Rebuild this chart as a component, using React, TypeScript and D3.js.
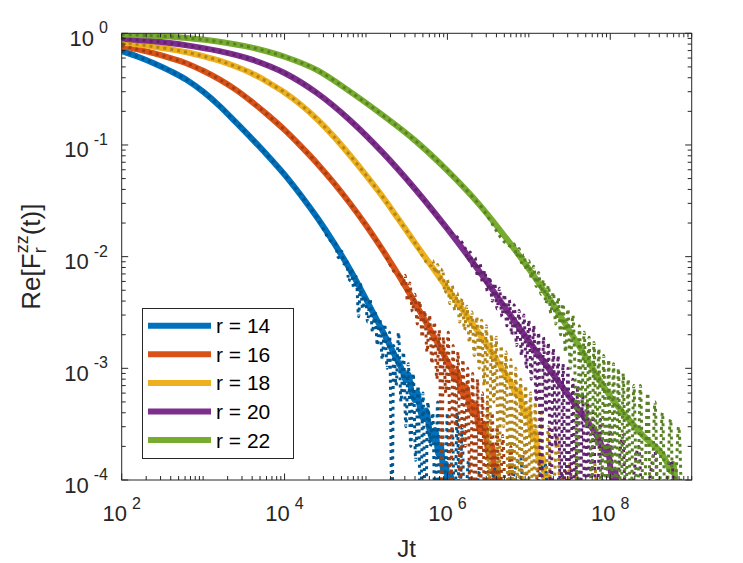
import React from "react";
import * as d3 from "d3";

// Each point is [log10(Jt), Re F_r^zz(t)]
type Pt = [number, number];

const legendLabels = ["r = 14", "r = 16", "r = 18", "r = 20", "r = 22"];
const lineColors = ["#0072BD", "#D95319", "#EDB120", "#7E2F8E", "#77AC30"];
const dotColors = ["#00568E", "#A33E13", "#B28518", "#5F236B", "#598124"];

const xTickExps = [2, 4, 6, 8];
const yTickExps = [0, -1, -2, -3, -4];

// r = 14
const smooth14: Pt[] = [
  [2.0, 0.695], [2.2, 0.617], [2.4, 0.537], [2.6, 0.459], [2.8, 0.382], [3.0, 0.3],
  [3.2, 0.224], [3.4, 0.16], [3.6, 0.1135], [3.8, 0.0794], [4.0, 0.0543], [4.2, 0.0355],
  [4.4, 0.0224], [4.6, 0.0135], [4.8, 0.00776], [5.0, 0.00417], [5.2, 0.00219], [5.4, 0.00112],
];
const end14: Pt[] = [
  [5.45, 0.00095], [5.49, 0.00078], [5.52, 0.00088], [5.56, 0.00062], [5.6, 0.00052],
  [5.63, 0.00061], [5.67, 0.00041], [5.71, 0.00035], [5.74, 0.00042], [5.78, 0.00028],
  [5.82, 0.00023], [5.85, 0.00028], [5.89, 0.00017], [5.92, 0.0002], [5.95, 0.00012],
  [5.98, 0.00014], [6.01, 0.00008], [6.04, 0.00011], [6.07, 0.00005],
];
const noisy14: Pt[] = [
  [4.62, 0.0135], [4.66, 0.0098], [4.7, 0.0112], [4.73, 0.0086], [4.76, 0.0094],
  [4.79, 0.006], [4.82, 0.0078], [4.85, 0.0052], [4.88, 0.0066], [4.91, 0.0029],
  [4.93, 0.0058], [4.96, 0.0034], [4.99, 0.0045], [5.02, 0.0026], [5.05, 0.0042],
  [5.08, 0.0021], [5.11, 0.0033], [5.14, 0.0016], [5.17, 0.0028], [5.2, 0.0012],
  [5.23, 0.0025], [5.26, 0.001], [5.29, 0.0021], [5.32, 0.00004], [5.34, 0.0016],
  [5.37, 0.0007], [5.4, 0.0021], [5.43, 0.0005], [5.46, 0.0014], [5.49, 0.0003],
  [5.52, 0.0011], [5.55, 0.0002], [5.58, 0.0009], [5.61, 0.00015], [5.64, 0.0007],
  [5.67, 0.00004], [5.7, 0.0006], [5.73, 0.00004], [5.76, 0.0005], [5.79, 0.0002],
  [5.82, 0.0004], [5.85, 0.00004], [5.88, 0.0005], [5.91, 0.00004], [5.94, 0.0003],
  [5.97, 0.00004], [6.0, 0.0004], [6.03, 0.00004], [6.06, 0.0003], [6.09, 0.00004],
  [6.12, 0.0004], [6.15, 0.00004], [6.18, 0.0003], [6.21, 0.00004], [6.26, 0.00015],
  [6.3, 0.00004], [6.4, 0.00012], [6.45, 0.00004], [6.6, 0.00013], [6.65, 0.00004],
  [6.9, 0.00016], [6.95, 0.00004], [7.2, 0.00014], [7.25, 0.00004], [7.4, 0.00012],
  [7.45, 0.00004],
];

// r = 16
const smooth16: Pt[] = [
  [2.0, 0.774], [2.2, 0.718], [2.4, 0.661], [2.6, 0.6], [2.8, 0.537], [3.0, 0.462],
  [3.2, 0.387], [3.4, 0.313], [3.6, 0.243], [3.8, 0.184], [4.0, 0.1365], [4.2, 0.0977],
  [4.4, 0.0684], [4.6, 0.0462], [4.8, 0.0302], [5.0, 0.0191], [5.2, 0.0116], [5.4, 0.00684],
  [5.6, 0.00389], [5.8, 0.00214], [6.0, 0.00115],
];
const end16: Pt[] = [
  [6.05, 0.00098], [6.09, 0.00082], [6.12, 0.00094], [6.16, 0.00066], [6.2, 0.00058],
  [6.23, 0.00068], [6.27, 0.00046], [6.31, 0.0004], [6.34, 0.00047], [6.38, 0.00031],
  [6.42, 0.00027], [6.45, 0.00032], [6.49, 0.0002], [6.52, 0.00016], [6.55, 0.0002],
  [6.58, 0.00011], [6.61, 0.00013], [6.64, 0.00007], [6.67, 0.00009], [6.7, 0.00004],
];
const noisy16: Pt[] = [
  [5.42, 0.0072], [5.45, 0.0055], [5.48, 0.0068], [5.51, 0.004], [5.54, 0.0058],
  [5.57, 0.0032], [5.6, 0.0046], [5.63, 0.0025], [5.66, 0.004], [5.69, 0.0019],
  [5.72, 0.0033], [5.75, 0.0014], [5.78, 0.003], [5.81, 0.0011], [5.84, 0.0026],
  [5.87, 0.0008], [5.9, 0.0022], [5.93, 0.00004], [5.95, 0.0019], [5.98, 0.0006],
  [6.01, 0.0021], [6.04, 0.00004], [6.07, 0.0016], [6.1, 0.0003], [6.13, 0.0014],
  [6.16, 0.00004], [6.19, 0.0012], [6.22, 0.0002], [6.25, 0.001], [6.28, 0.00004],
  [6.31, 0.0009], [6.34, 0.00004], [6.37, 0.0008], [6.4, 0.00004], [6.43, 0.0006],
  [6.46, 0.00004], [6.49, 0.0005], [6.52, 0.00004], [6.55, 0.0004], [6.58, 0.00004],
  [6.61, 0.0003], [6.64, 0.00004], [6.68, 0.00025], [6.72, 0.00004], [6.78, 0.0002],
  [6.82, 0.00004], [6.95, 0.00018], [7.0, 0.00004], [7.15, 0.00015], [7.2, 0.00004],
  [7.5, 0.00013], [7.55, 0.00004],
];

// r = 18
const smooth18: Pt[] = [
  [2.0, 0.828], [2.2, 0.794], [2.4, 0.759], [2.6, 0.719], [2.8, 0.676], [3.0, 0.624],
  [3.2, 0.569], [3.4, 0.504], [3.6, 0.437], [3.8, 0.363], [4.0, 0.295], [4.2, 0.229],
  [4.4, 0.17], [4.6, 0.12], [4.8, 0.0813], [5.0, 0.0537], [5.2, 0.0347], [5.4, 0.0216],
  [5.6, 0.01334], [5.8, 0.00832], [6.0, 0.00519], [6.2, 0.00324], [6.4, 0.002],
  [6.6, 0.0012], [6.8, 0.00069],
];
const end18: Pt[] = [
  [6.84, 0.0006], [6.88, 0.00064], [6.92, 0.00045], [6.96, 0.00038], [6.99, 0.00043],
  [7.02, 0.00029], [7.05, 0.00024], [7.08, 0.00027], [7.11, 0.00017], [7.14, 0.00014],
  [7.17, 0.00016], [7.2, 0.0001], [7.23, 0.00011], [7.26, 0.00006], [7.29, 0.00007],
  [7.32, 0.00004],
];
const noisy18: Pt[] = [
  [5.82, 0.0092], [5.85, 0.0071], [5.88, 0.0085], [5.91, 0.006], [5.94, 0.0078],
  [5.97, 0.0047], [6.0, 0.0062], [6.03, 0.0038], [6.06, 0.0055], [6.09, 0.0033],
  [6.12, 0.0047], [6.15, 0.0026], [6.18, 0.0042], [6.21, 0.0022], [6.24, 0.0036],
  [6.27, 0.0017], [6.3, 0.0032], [6.33, 0.0013], [6.36, 0.0029], [6.39, 0.001],
  [6.42, 0.0027], [6.45, 0.0007], [6.48, 0.0024], [6.51, 0.00004], [6.54, 0.002],
  [6.57, 0.0005], [6.6, 0.0019], [6.63, 0.00004], [6.66, 0.0016], [6.69, 0.0003],
  [6.72, 0.0014], [6.75, 0.00004], [6.78, 0.0012], [6.81, 0.00004], [6.84, 0.001],
  [6.87, 0.00004], [6.9, 0.0008], [6.93, 0.00004], [6.96, 0.0007], [6.99, 0.00004],
  [7.02, 0.0006], [7.05, 0.00004], [7.08, 0.0005], [7.11, 0.00004], [7.15, 0.0004],
  [7.19, 0.00004], [7.24, 0.0003], [7.28, 0.00004], [7.35, 0.00025], [7.4, 0.00004],
  [7.55, 0.0002], [7.6, 0.00004], [7.8, 0.00015], [7.85, 0.00004],
];

// r = 20
const smooth20: Pt[] = [
  [2.0, 0.895], [2.4, 0.847], [2.8, 0.78], [3.2, 0.692], [3.6, 0.581], [4.0, 0.441],
  [4.4, 0.291], [4.8, 0.1675], [5.2, 0.0863], [5.6, 0.0406], [6.0, 0.0177], [6.4, 0.00724],
  [6.8, 0.0028], [7.2, 0.0011], [7.6, 0.000437], [7.9, 0.0002],
];
const end20: Pt[] = [
  [7.94, 0.00017], [7.97, 0.0002], [8.0, 0.00013], [8.03, 0.0001], [8.06, 0.00012],
  [8.09, 0.00007], [8.12, 0.00008], [8.15, 0.00005], [8.18, 0.00006], [8.21, 0.00003],
];
const noisy20: Pt[] = [
  [6.22, 0.0118], [6.25, 0.0092], [6.28, 0.011], [6.31, 0.008], [6.34, 0.0098],
  [6.37, 0.0066], [6.4, 0.0088], [6.43, 0.0058], [6.46, 0.0075], [6.49, 0.0049],
  [6.52, 0.0066], [6.55, 0.004], [6.58, 0.0058], [6.61, 0.0034], [6.64, 0.0052],
  [6.67, 0.0029], [6.7, 0.0046], [6.73, 0.0024], [6.76, 0.0041], [6.79, 0.002],
  [6.82, 0.0037], [6.85, 0.0016], [6.88, 0.0033], [6.91, 0.0013], [6.94, 0.003],
  [6.97, 0.001], [7.0, 0.0027], [7.03, 0.0008], [7.06, 0.0024], [7.09, 0.0005],
  [7.12, 0.0021], [7.15, 0.00004], [7.18, 0.0019], [7.21, 0.0004], [7.24, 0.0017],
  [7.27, 0.00004], [7.3, 0.0015], [7.33, 0.0002], [7.36, 0.0013], [7.39, 0.00004],
  [7.42, 0.0011], [7.45, 0.00004], [7.48, 0.001], [7.51, 0.00004], [7.54, 0.0008],
  [7.57, 0.00004], [7.6, 0.0007], [7.63, 0.00004], [7.66, 0.0006], [7.69, 0.00004],
  [7.72, 0.0005], [7.75, 0.00004], [7.79, 0.0004], [7.83, 0.00004], [7.88, 0.00035],
  [7.92, 0.00004], [8.0, 0.0003], [8.04, 0.00004], [8.15, 0.00025], [8.2, 0.00004],
  [8.35, 0.0002], [8.4, 0.00004], [8.55, 0.00018], [8.6, 0.00004], [8.75, 0.00015],
  [8.8, 0.00004],
];

// r = 22
const smooth22: Pt[] = [
  [2.0, 0.975], [2.4, 0.95], [2.8, 0.908], [3.2, 0.841], [3.6, 0.745], [4.0, 0.617],
  [4.4, 0.468], [4.8, 0.302], [5.2, 0.186], [5.6, 0.11], [6.0, 0.0589], [6.4, 0.0288],
  [6.8, 0.0123], [7.2, 0.00479], [7.6, 0.00166], [8.0, 0.00056], [8.4, 0.00025],
  [8.7, 0.000141],
];
const end22: Pt[] = [
  [8.74, 0.00012], [8.77, 0.00014], [8.81, 0.00009], [8.84, 0.00007], [8.87, 0.00009],
  [8.9, 0.00005], [8.93, 0.00006], [8.96, 0.00003],
];
const noisy22: Pt[] = [
  [6.82, 0.013], [6.85, 0.01], [6.88, 0.0118], [6.91, 0.0088], [6.94, 0.0104],
  [6.97, 0.0076], [7.0, 0.0092], [7.03, 0.0064], [7.06, 0.0082], [7.09, 0.0054],
  [7.12, 0.0072], [7.15, 0.0046], [7.18, 0.0062], [7.21, 0.0038], [7.24, 0.0055],
  [7.27, 0.0031], [7.3, 0.0048], [7.33, 0.0025], [7.36, 0.0043], [7.39, 0.002],
  [7.42, 0.0038], [7.45, 0.0014], [7.48, 0.0034], [7.51, 0.001], [7.54, 0.003],
  [7.57, 0.0007], [7.6, 0.00004], [7.62, 0.0024], [7.65, 0.0005], [7.68, 0.0021],
  [7.71, 0.0003], [7.74, 0.0019], [7.77, 0.00004], [7.8, 0.0017], [7.83, 0.0002],
  [7.86, 0.0015], [7.89, 0.00004], [7.92, 0.0013], [7.95, 0.00004], [7.98, 0.0012],
  [8.01, 0.00004], [8.04, 0.0011], [8.07, 0.00004], [8.1, 0.001], [8.13, 0.00004],
  [8.16, 0.0009], [8.19, 0.00004], [8.22, 0.0008], [8.25, 0.00004], [8.29, 0.0007],
  [8.33, 0.00004], [8.37, 0.0007], [8.41, 0.00004], [8.46, 0.0006], [8.5, 0.00004],
  [8.55, 0.0005], [8.59, 0.00004], [8.64, 0.0004], [8.68, 0.00004], [8.74, 0.00035],
  [8.78, 0.00004], [8.84, 0.0003], [8.88, 0.00004],
];

const smoothParts = [smooth14, smooth16, smooth18, smooth20, smooth22];
const endParts = [end14, end16, end18, end20, end22];
const noisyParts = [noisy14, noisy16, noisy18, noisy20, noisy22];

const W = 743;
const H = 563;
const left = 121.7;
const right = 691.7;
const top = 33.3;
const bottom = 480;
const font = "'Liberation Sans', Arial, Helvetica, sans-serif";
const axisColor = "#262626";

export default function App() {
  const x = d3.scaleLog().domain([1e2, 1e9]).range([left, right]);
  const y = d3.scaleLog().domain([1e-4, 1]).range([bottom, top]);

  const line = d3
    .line<Pt>()
    .x((d) => x(Math.pow(10, d[0])))
    .y((d) => y(d[1]))
    .curve(d3.curveMonotoneX);

  const solidSeries = smoothParts.map((s, i) => s.concat(endParts[i]));
  const dottedSeries = smoothParts.map((s, i) => {
    const start = noisyParts[i][0][0];
    return s.filter((p) => p[0] < start).concat(noisyParts[i]);
  });

  // log ticks: 1..9 per decade
  const xTicks: { v: number; major: boolean }[] = [];
  for (let e = 2; e < 9; e++) {
    for (let k = 1; k <= 9; k++) xTicks.push({ v: k * Math.pow(10, e), major: k === 1 && e % 2 === 0 });
  }
  xTicks.push({ v: 1e9, major: false });
  const yTicks: { v: number; major: boolean }[] = [];
  for (let e = -4; e < 0; e++) {
    for (let k = 1; k <= 9; k++) yTicks.push({ v: k * Math.pow(10, e), major: k === 1 });
  }
  yTicks.push({ v: 1, major: true });

  const majLen = 6.5;
  const minLen = 4;

  const legendX = 142.5;
  const legendY = 308.5;
  const legendW = 151;
  const legendH = 150;
  const legendStep = 28.6;

  return (
    <svg
      width={W}
      height={H}
      style={{ position: "absolute", left: 0, top: 0, background: "#fff" }}
      fontFamily={font}
    >
      <defs>
        <clipPath id="plotArea">
          <rect x={left} y={top} width={right - left} height={bottom - top} />
        </clipPath>
      </defs>
      <rect x={0} y={0} width={W} height={H} fill="#fff" />

      <g clipPath="url(#plotArea)" fill="none">
        {solidSeries.map((s, i) => (
          <path
            key={`s${i}`}
            d={line(s) ?? ""}
            stroke={lineColors[i]}
            strokeWidth={6}
            strokeLinejoin="round"
          />
        ))}
        {dottedSeries.map((s, i) => (
          <path
            key={`d${i}`}
            d={line(s) ?? ""}
            stroke={dotColors[i]}
            strokeWidth={3}
            strokeDasharray="3 4"
          />
        ))}
      </g>

      {/* axes box and ticks */}
      <g stroke={axisColor} strokeWidth={1} fill="none">
        <rect x={left} y={top} width={right - left} height={bottom - top} />
        {xTicks.map((t, i) => {
          const px = x(t.v);
          const len = t.major ? majLen : minLen;
          return (
            <g key={`xt${i}`}>
              <line x1={px} x2={px} y1={bottom} y2={bottom - len} />
              <line x1={px} x2={px} y1={top} y2={top + len} />
            </g>
          );
        })}
        {yTicks.map((t, i) => {
          const py = y(t.v);
          const len = t.major ? majLen : minLen;
          return (
            <g key={`yt${i}`}>
              <line x1={left} x2={left + len} y1={py} y2={py} />
              <line x1={right} x2={right - len} y1={py} y2={py} />
            </g>
          );
        })}
      </g>

      {/* tick labels */}
      <g fill={axisColor}>
        {xTickExps.map((e) => (
          <text key={`xl${e}`} x={x(Math.pow(10, e))} y={521} textAnchor="middle" fontSize={22}>
            10
            <tspan dx={5} dy={-12.5} fontSize={16}>
              {String(e)}
            </tspan>
          </text>
        ))}
        {yTickExps.map((e) => (
          <text key={`yl${e}`} x={108} y={y(Math.pow(10, e)) + 12.5} textAnchor="end" fontSize={22}>
            10
            <tspan dx={5} dy={-12.5} fontSize={16}>
              {String(e)}
            </tspan>
          </text>
        ))}
      </g>

      {/* axis labels */}
      <text x={(left + right) / 2} y={557} textAnchor="middle" fontSize={24} fill={axisColor}>
        Jt
      </text>
      <g transform={`translate(40, ${(top + bottom) / 2}) rotate(-90)`}>
        <text x={0} y={0} textAnchor="middle" fontSize={26} fill={axisColor}>
          Re[F
          <tspan dy={6} fontSize={18}>r</tspan>
          <tspan dx={-6} dy={-18} fontSize={18}>zz</tspan>
          <tspan dy={12}>(t)]</tspan>
        </text>
      </g>

      {/* legend */}
      <g>
        <rect
          x={legendX}
          y={legendY}
          width={legendW}
          height={legendH}
          fill="#fff"
          stroke={axisColor}
          strokeWidth={1}
        />
        {legendLabels.map((lab, i) => {
          const cy = legendY + 17.2 + i * legendStep;
          return (
            <g key={lab}>
              <line x1={148} x2={211} y1={cy} y2={cy} stroke={lineColors[i]} strokeWidth={6} />
              <text x={216} y={cy + 7.5} fontSize={21} fill="#000">
                {lab}
              </text>
            </g>
          );
        })}
      </g>
    </svg>
  );
}
